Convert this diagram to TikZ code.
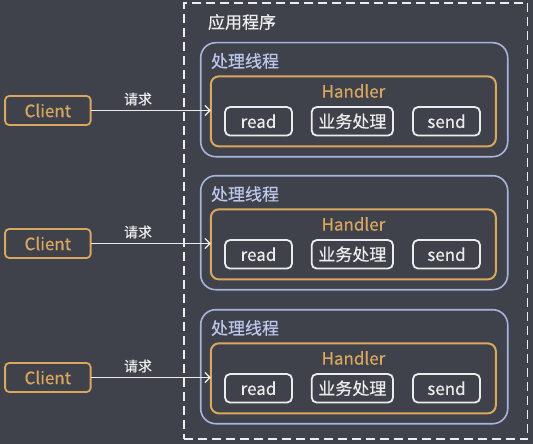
\documentclass[tikz,border=0pt]{standalone}
\usepackage{fontspec}
\setmainfont{Noto Sans CJK SC}[FakeBold=0.4]
\newfontfamily\bfont{Noto Sans CJK SC}[FakeBold=0.4]
\usetikzlibrary{arrows.meta}
\definecolor{bg}{HTML}{3F424B}
\definecolor{orng}{HTML}{D9A75E}
\definecolor{thr}{HTML}{A8B4DC}
\definecolor{thrtext}{HTML}{BCC6EA}
\definecolor{wht}{HTML}{ECECEC}
\begin{document}
\begin{tikzpicture}[x=1pt,y=-1pt,
  every node/.style={inner sep=0pt, outer sep=0pt},
  appbox/.style={draw=wht, line width=1.8pt, dash pattern=on 9pt off 5pt, minimum width=343.5pt, minimum height=436pt},
  thread/.style={draw=thr, line width=1.6pt, rounded corners=15pt, minimum width=307pt, minimum height=114pt},
  handler/.style={draw=orng, line width=2pt, rounded corners=8pt, minimum width=285pt, minimum height=70pt},
  btn/.style={draw=wht, line width=1.8pt, rounded corners=5pt, minimum height=28.5pt, text=wht, font=\fontsize{17}{17}\selectfont},
  client/.style={draw=orng, line width=1.8pt, rounded corners=4pt, minimum width=85.5pt, minimum height=29pt, text=orng, font=\fontsize{17}{17}\selectfont},
  req/.style={draw=wht, line width=1.3pt, -{Straight Barb[length=5pt,width=10pt,line width=1.3pt]}},
  lbl/.style={text=wht, font=\fontsize{14}{14}\selectfont},
]
\fill[bg] (0,0) rectangle (533,444);
\useasboundingbox (0,0) rectangle (533,444);
\node[appbox] (app) at (355.75,221) {};
\node[anchor=west, text=wht, font=\fontsize{17}{17}\selectfont] (apptitle) at (208,22) {应用程序};
\foreach \i/\dy in {1/0,2/133,3/267}{
  \node[thread] (t\i) at (354.2,99.7+\dy) {};
  \node[anchor=west, text=thrtext, font=\fontsize{17}{17}\selectfont] (tl\i) at (211,61+\dy) {处理线程};
  \node[handler] (h\i) at (353.35,111.35+\dy) {};
  \node[text=orng, font=\fontsize{17}{17}\selectfont] (hl\i) at (353.4,91+\dy) {Handler};
  \node[btn, minimum width=67pt] (r\i) at (258.5,121.3+\dy) {read};
  \node[btn, minimum width=81.3pt] (b\i) at (352.35,121.3+\dy) {业务处理};
  \node[btn, minimum width=67pt] (s\i) at (446.5,121.3+\dy) {send};
  \node[client] (c\i) at (47.85,110.5+\dy) {Client};
  \draw[req] (c\i.east) -- (c\i.east -| h\i.west);
  \node[lbl] (q\i) at (138,99+\dy) {请求};
}
\end{tikzpicture}
\end{document}
